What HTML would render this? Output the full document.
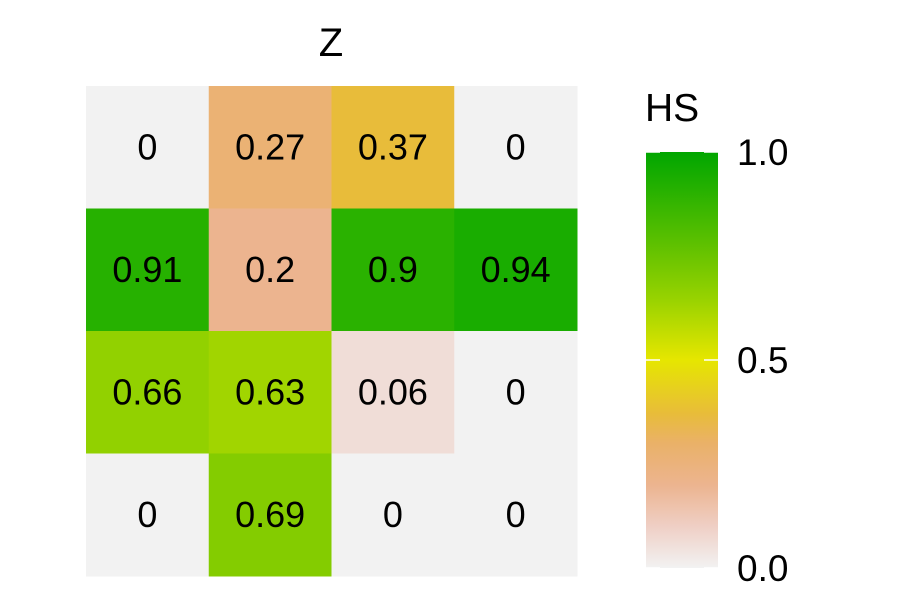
<!DOCTYPE html>
<html><head><meta charset="utf-8"><style>
body{margin:0;background:#fff;}
svg text{font-family:"Liberation Sans",Arial,sans-serif;}
</style></head><body>
<svg id="chart" width="900" height="600">
<defs>
<linearGradient id="grad" x1="0" y1="1" x2="0" y2="0">
<stop offset="0" stop-color="#F2F2F2"/>
<stop offset="0.1" stop-color="#EFCFC5"/>
<stop offset="0.2" stop-color="#ECB48F"/>
<stop offset="0.3" stop-color="#EAB168"/>
<stop offset="0.37" stop-color="#E8BC3A"/>
<stop offset="0.5" stop-color="#E6E600"/>
<stop offset="0.65" stop-color="#96D200"/>
<stop offset="0.75" stop-color="#6AC400"/>
<stop offset="1" stop-color="#00A600"/>
</linearGradient>
</defs>
<text x="331" y="56" font-size="40" text-anchor="middle">Z</text>
<g id="cells"></g>
<text x="645" y="121" font-size="39">HS</text>
<rect x="646" y="152" width="72" height="416" fill="url(#grad)"/>
<g id="cbticks"></g>
</svg>
<script>
const rowsData = [
  [0, 0.27, 0.37, 0],
  [0.91, 0.2, 0.9, 0.94],
  [0.66, 0.63, 0.06, 0],
  [0, 0.69, 0, 0]
];
const legendTicks = [0, 0.5, 1];
const legendLabels = ["0.0", "0.5", "1.0"];

const stops = [[0,[242,242,242]],[0.1,[239,207,197]],[0.2,[236,180,143]],[0.3,[234,177,104]],[0.37,[232,188,58]],[0.5,[230,230,0]],[0.65,[150,210,0]],[0.75,[106,196,0]],[1,[0,166,0]]];
function color(v){
  for(let i=1;i<stops.length;i++){
    if(v<=stops[i][0]){
      const a=stops[i-1],b=stops[i],t=(v-a[0])/(b[0]-a[0]);
      const c=a[1].map((x,k)=>Math.round(x+(b[1][k]-x)*t));
      return `rgb(${c.join(',')})`;
    }
  }
  return 'rgb(0,166,0)';
}
const NS="http://www.w3.org/2000/svg";
const x0=86,y0=86,cw=122.75,ch=122.5;
const g=document.getElementById('cells');
rowsData.forEach((row,r)=>row.forEach((v,c)=>{
  const rect=document.createElementNS(NS,'rect');
  rect.setAttribute('x',x0+c*cw);rect.setAttribute('y',y0+r*ch);
  rect.setAttribute('width',cw+0.5);rect.setAttribute('height',ch+0.5);
  rect.setAttribute('fill',color(v));
  
  
  g.appendChild(rect);
  const t=document.createElementNS(NS,'text');
  t.setAttribute('x',x0+c*cw+cw/2);t.setAttribute('y',y0+r*ch+ch/2+12);
  t.setAttribute('text-anchor','middle');t.setAttribute('font-size','36');
  t.textContent=String(v);
  
  
  g.appendChild(t);
}));
const cb=document.getElementById('cbticks');
function ly(v){return 568-v*416;}
legendTicks.forEach((v,i)=>{
  [646,704].forEach(x=>{
    const l=document.createElementNS(NS,'line');
    l.setAttribute('x1',x);l.setAttribute('x2',x+14);
    l.setAttribute('y1',ly(v));l.setAttribute('y2',ly(v));
    l.setAttribute('stroke','#fff');l.setAttribute('stroke-width','1.5');
    
    
    cb.appendChild(l);
  });
  const t=document.createElementNS(NS,'text');
  t.setAttribute('x',737);t.setAttribute('y',ly(v)+13);
  t.setAttribute('font-size','37');
  t.textContent=legendLabels[i];
  
  
  cb.appendChild(t);
});
</script>
</body></html>
